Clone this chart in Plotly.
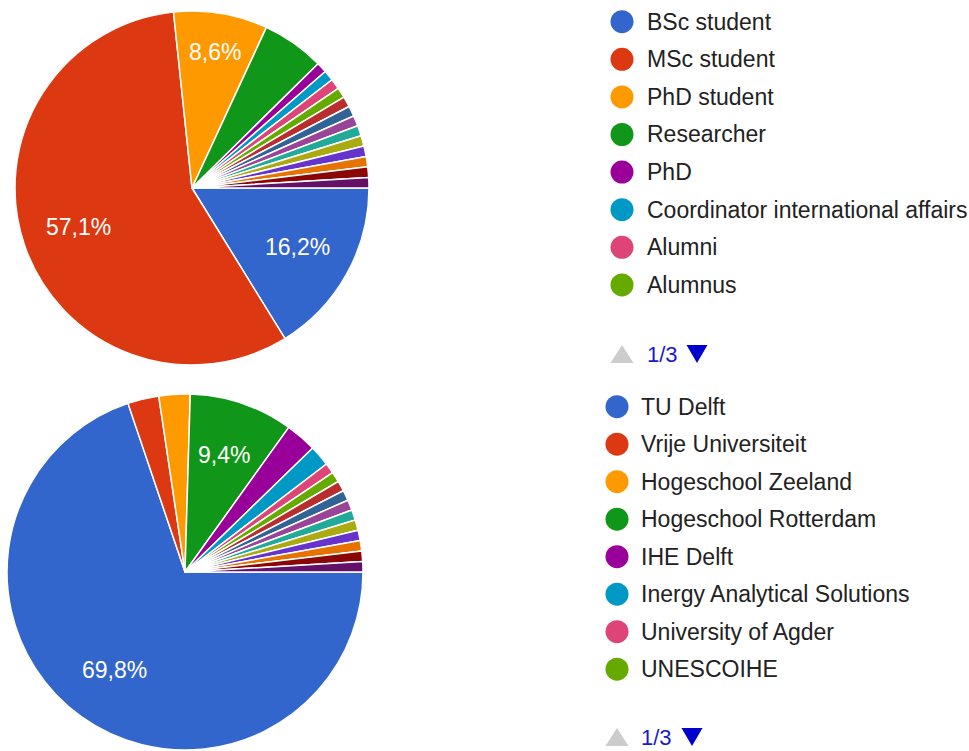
import math
import plotly.graph_objects as go

# Survey responses: role of respondent (first pie) and affiliation (second pie)
role_values = [17, 60, 9, 6, 1, 1, 1, 1, 1, 1, 1, 1, 1, 1, 1, 1, 1]
role_legend = ["BSc student", "MSc student", "PhD student", "Researcher", "PhD",
               "Coordinator international affairs", "Alumni", "Alumnus"]

inst_values = [74, 3, 3, 10, 3, 2, 1, 1, 1, 1, 1, 1, 1, 1, 1, 1, 1]
inst_legend = ["TU Delft", "Vrije Universiteit", "Hogeschool Zeeland", "Hogeschool Rotterdam",
               "IHE Delft", "Inergy Analytical Solutions", "University of Agder", "UNESCOIHE"]

legend_page = "1/3"

palette = ["#3366cc", "#dc3912", "#ff9900", "#109618", "#990099", "#0099c6", "#dd4477",
           "#66aa00", "#b82e2e", "#316395", "#994499", "#22aa99", "#aaaa11", "#6633cc",
           "#e67300", "#8b0707", "#651067"]

W, H = 969, 751
FONT = "Liberation Sans, Arial, sans-serif"
LABEL_MIN_SHARE = 0.07   # slices smaller than this carry no percentage label
START_ANGLE = 90         # first slice starts at 3 o'clock, going clockwise
LABEL_SIZE = 23

shapes = []
annotations = []


def px(x, y):
    return x / W, 1 - y / H


def px_domain(cx, cy, r):
    return dict(x=[(cx - r) / W, (cx + r) / W], y=[1 - (cy + r) / H, 1 - (cy - r) / H])


def pct_text(v, total):
    return f"{100 * v / total:.1f}%".replace(".", ",")


def slice_labels(values, cx, cy, r):
    """Percentage labels placed along each slice bisector, pushed outward until they fit."""
    total = sum(values)
    angle = START_ANGLE
    for v in values:
        span = 360 * v / total
        a0, a1 = angle, angle + span
        angle = a1
        if v / total < LABEL_MIN_SHARE:
            continue
        txt = pct_text(v, total)
        hw = 0.5 * LABEL_SIZE * (0.556 * (len(txt) - 2) + 0.278 + 0.889)
        hh = 0.5 * LABEL_SIZE
        mid = math.radians((a0 + a1) / 2)
        half = math.radians(span / 2)
        d = 0.68 * r
        if span < 180:
            need = 0
            for e in (a0, a1):
                er = math.radians(e)
                need = max(need, hw * abs(math.cos(er)) + hh * abs(math.sin(er)) + 8)
            d = max(d, need / math.sin(half))
        x = cx + d * math.sin(mid)
        y = cy - d * math.cos(mid)
        ax, ay = px(x, y)
        annotations.append(dict(text=txt, x=ax, y=ay, xref="paper", yref="paper",
                                xanchor="center", yanchor="middle", showarrow=False,
                                font=dict(size=LABEL_SIZE, color="white", family=FONT)))


def pie(values, cx, cy, r):
    slice_labels(values, cx, cy, r)
    return go.Pie(
        values=values,
        sort=False,
        direction="clockwise",
        rotation=START_ANGLE,
        domain=px_domain(cx, cy, r),
        marker=dict(colors=palette[:len(values)], line=dict(color="white", width=1.5)),
        textinfo="none",
        showlegend=False,
        hoverinfo="percent",
    )


fig = go.Figure()
fig.add_trace(pie(role_values, 192, 188, 177))
fig.add_trace(pie(inst_values, 185, 572, 178))


def draw_legend(labels, dot_x, text_x, row_y, pager_y, down_x):
    rad = 11.5
    for i, (lab, y) in enumerate(zip(labels, row_y)):
        x0, y0 = px(dot_x - rad, y + rad)
        x1, y1 = px(dot_x + rad, y - rad)
        shapes.append(dict(type="circle", xref="paper", yref="paper", x0=x0, y0=y0, x1=x1, y1=y1,
                           fillcolor=palette[i], line=dict(width=0)))
        tx, ty = px(text_x, y)
        annotations.append(dict(text=lab, x=tx, y=ty, xref="paper", yref="paper", xanchor="left",
                                yanchor="middle", showarrow=False,
                                font=dict(size=23, color="#222222", family=FONT)))
    # pager: up arrow (inactive), page text, down arrow
    ax, ay = px(dot_x - 11.5, pager_y + 9)
    bx, by = px(dot_x + 11.5, pager_y + 9)
    cx, cy = px(dot_x, pager_y - 9)
    shapes.append(dict(type="path", xref="paper", yref="paper",
                       path=f"M {ax},{ay} L {bx},{by} L {cx},{cy} Z",
                       fillcolor="#cccccc", line=dict(width=0)))
    ax, ay = px(down_x - 10.5, pager_y - 9)
    bx, by = px(down_x + 10.5, pager_y - 9)
    cx, cy = px(down_x, pager_y + 9)
    shapes.append(dict(type="path", xref="paper", yref="paper",
                       path=f"M {ax},{ay} L {bx},{by} L {cx},{cy} Z",
                       fillcolor="#0000cc", line=dict(width=0)))
    tx, ty = px(text_x, pager_y)
    annotations.append(dict(text=legend_page, x=tx, y=ty, xref="paper", yref="paper",
                            xanchor="left", yanchor="middle", showarrow=False,
                            font=dict(size=22, color="#1a1acc", family=FONT)))


draw_legend(role_legend, 622, 645, [21.7 + 37.6 * k for k in range(8)], 354, 697)
draw_legend(inst_legend, 617, 639, [406.7 + 37.5 * k for k in range(8)], 737, 692)

fig.update_layout(
    width=W, height=H,
    margin=dict(l=0, r=0, t=0, b=0),
    paper_bgcolor="white",
    shapes=shapes,
    annotations=annotations,
)

fig.write_html("out.html")
